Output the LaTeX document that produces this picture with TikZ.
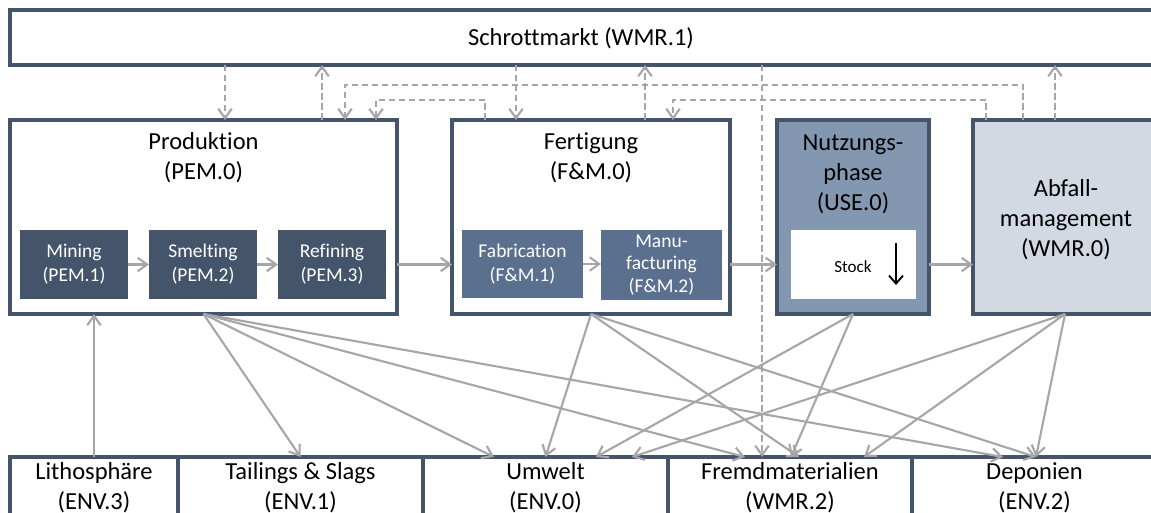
\documentclass[tikz,border=0pt]{standalone}
\usepackage{fontspec}
\setmainfont{Carlito}[Ligatures={NoCommon}]
\usetikzlibrary{arrows.meta,calc}
\definecolor{slate}{HTML}{44546A}
\definecolor{slatemid}{HTML}{5B6F8F}
\definecolor{slatelight}{HTML}{8497B0}
\definecolor{slatepale}{HTML}{D3D9E3}
\definecolor{flowgray}{HTML}{A6A6A6}
\newcommand\diaglarge{\fontsize{24.5}{30}\selectfont}
\newcommand\diagsmall{\fontsize{19.5}{24}\selectfont}
\newcommand\diagtiny{\fontsize{17}{20}\selectfont}

\begin{document}
\begin{tikzpicture}[x=1pt,y=-1pt,
  box/.style={draw=slate,line width=3.1pt,fill=white,rectangle,outer sep=0pt,inner sep=0pt,anchor=north west},
  sub/.style={rectangle,outer sep=0pt,inner sep=0pt,anchor=north west,text=white,align=center,font=\diagsmall},
  title/.style={align=center,inner sep=0pt,font=\diaglarge},
  flow/.style={draw=flowgray,line width=2.1pt,-{Straight Barb[length=9.5pt,width=13.5pt]}},
  trade/.style={flow,dash pattern=on 6.5pt off 3.5pt},
]
\useasboundingbox (0,0) rectangle (1151,513);
\fill[white] (0,0) rectangle (1151,513);
\clip (0,0) rectangle (1151,513);

% scrap market across the top
\node[box,minimum width=1147pt,minimum height=55pt] (wmr1) at (10,10) {};
\node[title] (wmr1t) at (581,38) {Schrottmarkt (WMR.1)};

% main process boxes
\node[box,minimum width=387pt,minimum height=194pt] (pem0) at (10,120) {};
\node[box,minimum width=278pt,minimum height=194pt] (fm0) at (452,120) {};
\node[box,fill=slatelight,minimum width=152pt,minimum height=194pt] (use0) at (777,120) {};
\node[box,fill=slatepale,minimum width=184pt,minimum height=194pt] (wmr0) at (973,120) {};

\node[title] (pem0t) at (203.5,158) {Produktion\\(PEM.0)};
\node[title] (fm0t) at (591,158) {Fertigung\\(F\&M.0)};
\node[title] (use0t) at (853,174) {Nutzungs-\\phase\\(USE.0)};
\node[title] (wmr0t) at (1066,220) {Abfall-\\management\\(WMR.0)};

% sub-processes
\node[sub,fill=slate,minimum width=108pt,minimum height=69pt] (pem1) at (20,230) {Mining\\(PEM.1)};
\node[sub,fill=slate,minimum width=108pt,minimum height=69pt] (pem2) at (149,230) {Smelting\\(PEM.2)};
\node[sub,fill=slate,minimum width=108pt,minimum height=69pt] (pem3) at (278,230) {Refining\\(PEM.3)};
\node[sub,fill=slatemid,minimum width=121pt,minimum height=68pt] (fm1) at (462,230) {Fabrication\\(F\&M.1)};
\node[sub,fill=slatemid,minimum width=121pt,minimum height=70pt,font=\fontsize{19.5}{22.5}\selectfont] (fm2) at (601,230) {Manu-\\facturing\\(F\&M.2)};
\node[sub,fill=white,minimum width=125pt,minimum height=69pt] (stock) at (791,230) {};
\node[inner sep=0pt,font=\diagtiny] (stockt) at (853,267) {Stock};
\coordinate (stockA) at ([xshift=42.5pt,yshift=21.5pt]stock.center);
\coordinate (stockB) at ([xshift=42.5pt,yshift=-20.5pt]stock.center);
\draw[line width=1.9pt,-{Straight Barb[length=8pt,width=14pt]}] (stockA) -- (stockB);

% environment and sinks along the bottom
\node[box,minimum width=168pt,minimum height=80pt] (env3) at (10,457) {};
\node[box,minimum width=245pt,minimum height=80pt] (env1) at (178,457) {};
\node[box,minimum width=245pt,minimum height=80pt] (env0) at (423,457) {};
\node[box,minimum width=244pt,minimum height=80pt] (wmr2) at (668,457) {};
\node[box,minimum width=245pt,minimum height=80pt] (env2) at (912,457) {};
\node[title] (env3t) at (94,488) {Lithosphäre\\(ENV.3)};
\node[title] (env1t) at (300.5,488) {Tailings \& Slags\\(ENV.1)};
\node[title] (env0t) at (545.5,488) {Umwelt\\(ENV.0)};
\node[title] (wmr2t) at (790,488) {Fremdmaterialien\\(WMR.2)};
\node[title] (env2t) at (1034.5,488) {Deponien\\(ENV.2)};

% material chain
\draw[flow] (pem1) -- (pem2);
\draw[flow] (pem2) -- (pem3);
\draw[flow] (fm1.east) -- (fm1.east -| fm2.west);
\draw[flow] (pem3.east -| pem0.east) -- (pem3.east -| fm0.west);
\draw[flow] (stock.east -| fm0.east) -- (stock.east -| use0.west);
\draw[flow] (stock.east -| use0.east) -- (stock.east -| wmr0.west);
\draw[flow] (env3.north) -- (env3.north |- pem0.south);

% losses to the environment and sinks
\draw[flow] (pem0.south) -- (env1.north);
\draw[flow] (pem0.south) -- ([xshift=-51.5pt]env0.north);
\draw[flow] (pem0.south) -- ([xshift=-45pt]wmr2.north);
\draw[flow] (pem0.south) -- ([xshift=-31.5pt]env2.north);
\draw[flow] (fm0.south) -- (env0.north);
\draw[flow] (fm0.south) -- ([xshift=9pt]wmr2.north);
\draw[flow] (fm0.south) -- ([xshift=1.5pt]env2.north);
\draw[flow] (use0.south) -- ([xshift=50.5pt]env0.north);
\draw[flow] (use0.south) -- ([xshift=1pt]wmr2.north);
\draw[flow] (wmr0.south) -- ([xshift=86.5pt]env0.north);
\draw[flow] (wmr0.south) -- ([xshift=74pt]wmr2.north);
\draw[flow] (wmr0.south) -- ([xshift=1.5pt]env2.north);

% scrap trade (dashed)
\coordinate (laneA) at (0,85);
\coordinate (laneB) at (0,100);
\coordinate (d1) at ([xshift=21.5pt]pem0.north);
\coordinate (d2) at ([xshift=118.5pt]pem0.north);
\coordinate (d3) at ([xshift=141.5pt]pem0.north);
\coordinate (d4) at ([xshift=172.5pt]pem0.north);
\coordinate (d5) at ([xshift=-106pt]fm0.north);
\coordinate (d6) at ([xshift=-75pt]fm0.north);
\coordinate (d7) at ([xshift=54pt]fm0.north);
\coordinate (d8) at ([xshift=82pt]fm0.north);
\coordinate (d9) at ([xshift=-28pt]wmr2.north);
\coordinate (d10) at ([xshift=-79pt]wmr0.north);
\coordinate (d11) at ([xshift=-42pt]wmr0.north);
\coordinate (d12) at ([xshift=-10pt]wmr0.north);
\draw[trade] (d1 |- wmr1.south) -- (d1);
\draw[trade] (d2) -- (d2 |- wmr1.south);
\draw[trade] (d11) -- (d11 |- laneA) -- (d3 |- laneA) -- (d3);
\draw[trade] (d5) -- (d5 |- laneB) -- (d4 |- laneB) -- (d4);
\draw[trade] (d6 |- wmr1.south) -- (d6);
\draw[trade] (d7) -- (d7 |- wmr1.south);
\draw[trade] (d10) -- (d10 |- laneB) -- (d8 |- laneB) -- (d8);
\draw[trade] (d9 |- wmr1.south) -- (d9);
\draw[trade] (d12) -- (d12 |- wmr1.south);
\end{tikzpicture}
\end{document}
